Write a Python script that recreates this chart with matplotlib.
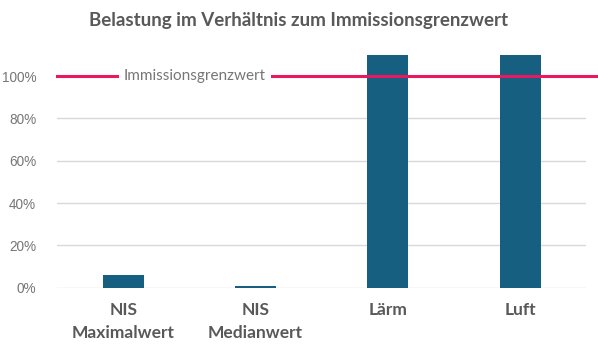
import matplotlib
matplotlib.use("Agg")
import matplotlib.pyplot as plt
from matplotlib.ticker import PercentFormatter

plt.rcParams.update({"font.family": ["Lato", "DejaVu Sans"]})

# data
categories = ["NIS\nMaximalwert", "NIS\nMedianwert", "Lärm", "Luft"]
values = [0.06, 0.01, 1.10, 1.10]
limit = 1.0
limit_label = "Immissionsgrenzwert"
y_ticks = [0, 0.2, 0.4, 0.6, 0.8, 1.0]

BAR = "#165f81"
RED = "#e8195f"
GRID = "#d9d9d9"
TXT = "#595959"
TICK = "#767676"

fig = plt.figure(figsize=(5.98, 3.57), dpi=100)
ax = fig.add_axes([0.0953, 0.194, 0.885, 0.652])

x = range(len(categories))
ax.bar(x, values, width=0.31, color=BAR, zorder=2)

ax.set_xlim(-0.5, len(categories) - 0.5)
ax.set_ylim(0, 1.1)
ax.set_yticks(y_ticks)
ax.yaxis.set_major_formatter(PercentFormatter(1.0, decimals=0))
ax.grid(axis="y", color=GRID, lw=1.0, zorder=0)
for s in ax.spines.values():
    s.set_visible(False)
ax.tick_params(length=0)
ax.tick_params(axis="y", pad=15, labelsize=9.8, labelcolor=TICK)
for lab in ax.get_yticklabels():
    lab.set_family("Liberation Sans")

ax.set_xticks(list(x))
ax.set_xticklabels(categories, fontsize=12.5, fontweight="bold", color=TXT,
                   linespacing=1.6, va="top")
ax.tick_params(axis="x", pad=10)

# limit line with label
ax.axhline(limit, xmin=0, xmax=1.02, color=RED, lw=2.2, zorder=3, clip_on=False)
ax.text(0.543, limit, limit_label, ha="center", va="center", fontsize=11,
        color=TICK, zorder=4,
        bbox=dict(boxstyle="square,pad=0.35", fc="white", ec="none"))

fig.suptitle("Belastung im Verhältnis zum Immissionsgrenzwert", x=0.5, y=0.965,
             fontsize=13.5, fontweight="bold", color=TXT)

fig.savefig("out.png", dpi=100)
